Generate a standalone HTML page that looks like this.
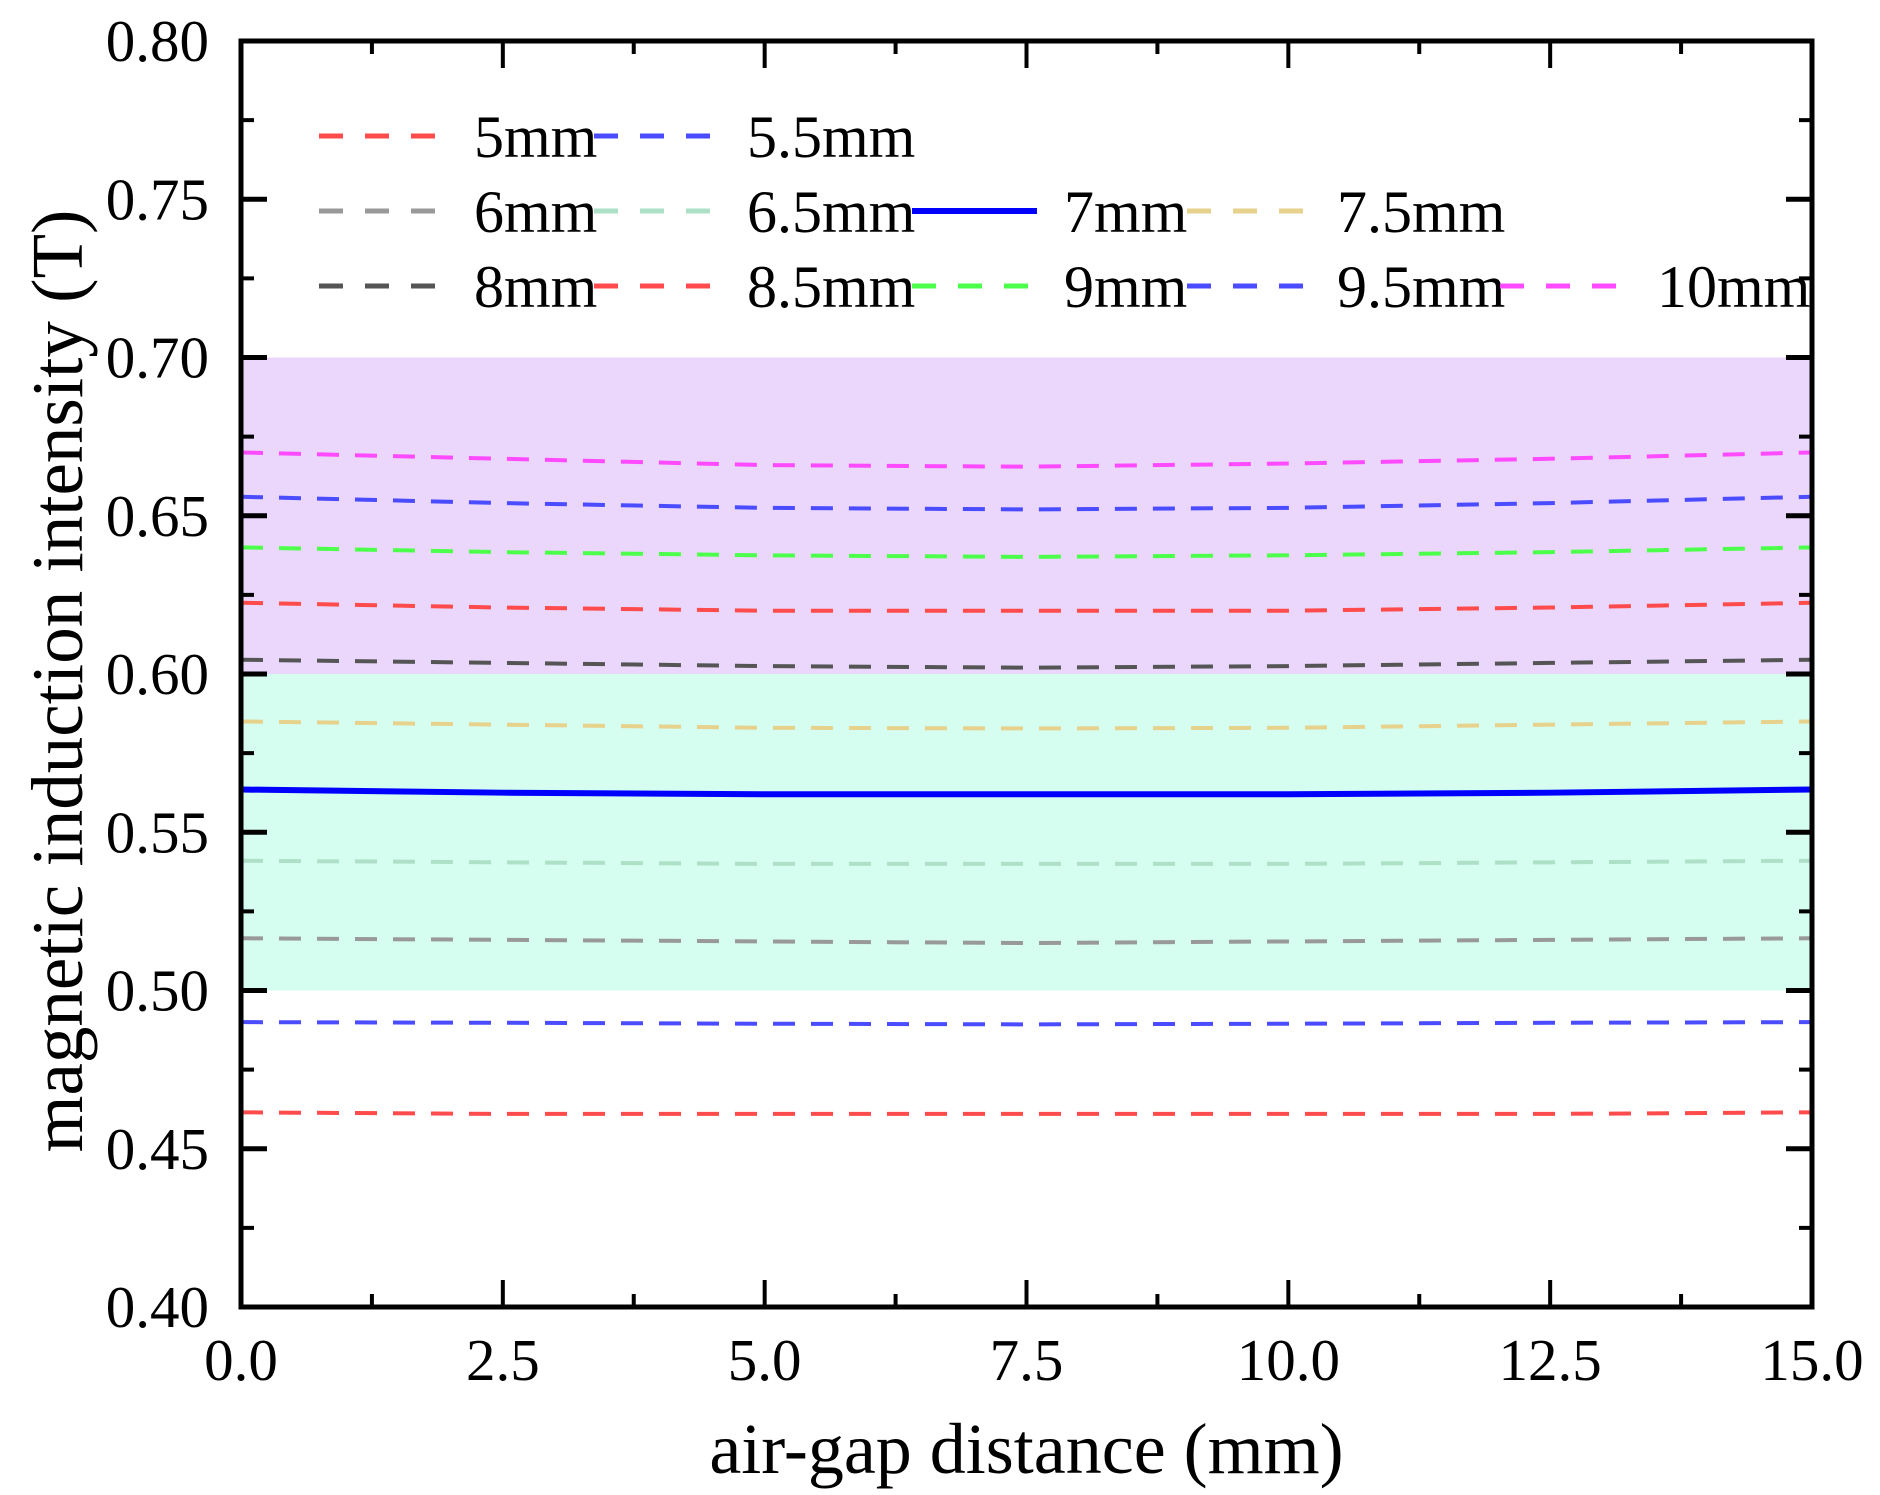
<!DOCTYPE html>
<html><head><meta charset="utf-8"><style>
html,body{margin:0;padding:0;background:#fff}
svg{display:block}
text{font-family:"Liberation Serif","Times New Roman",Times,serif;fill:#000}
</style></head><body>
<svg id="chart" width="1880" height="1495" xmlns="http://www.w3.org/2000/svg"></svg>
<script>
const xs = [0, 2.5, 5, 7.5, 10, 12.5, 15];
const seriesNames = ["5mm","5.5mm","6mm","6.5mm","7mm","7.5mm","8mm","8.5mm","9mm","9.5mm","10mm"];
const s5 = [0.4615,0.461,0.461,0.461,0.461,0.461,0.4615];
const s55 = [0.490,0.4898,0.4895,0.4893,0.4895,0.4898,0.490];
const s6 = [0.5165,0.516,0.5155,0.515,0.5155,0.516,0.5165];
const s65 = [0.541,0.5405,0.540,0.540,0.540,0.5405,0.541];
const s7 = [0.5635,0.5625,0.562,0.562,0.562,0.5625,0.5635];
const s75 = [0.585,0.584,0.583,0.5828,0.583,0.584,0.585];
const s8 = [0.6045,0.6035,0.6025,0.602,0.6025,0.6035,0.6045];
const s85 = [0.6225,0.621,0.620,0.620,0.620,0.621,0.6225];
const s9 = [0.640,0.6385,0.6375,0.637,0.6375,0.6385,0.640];
const s95 = [0.656,0.654,0.6525,0.652,0.6525,0.654,0.656];
const s10 = [0.670,0.668,0.666,0.6655,0.6665,0.668,0.670];
const yTicks = [0.40,0.45,0.50,0.55,0.60,0.65,0.70,0.75,0.80];
const xTicks = [0,2.5,5,7.5,10,12.5,15];
const bandLow = [0.5,0.6];
const bandHigh = [0.6,0.7];

const allSeries=[s5,s55,s6,s65,s7,s75,s8,s85,s9,s95,s10];
const colors=["#ff4b4b","#4b4bff","#999999","#aee0c8","#0000ff","#e6d28c","#555555","#ff4b4b","#4bff4b","#4b4bff","#ff4bff"];
const L=241,R=1812,T=41,B=1307;
const X=v=>L+(v-0)/15*(R-L);
const Y=v=>B-(v-0.4)/0.4*(B-T);
const svg=document.getElementById('chart');
const NS="http://www.w3.org/2000/svg";
function mk(tag,attrs,parent){const e=document.createElementNS(NS,tag);for(const k in attrs)e.setAttribute(k,attrs[k]);(parent||svg).appendChild(e);return e;}

let r=mk('rect',{x:L,y:Y(bandHigh[1]),width:R-L,height:Y(bandHigh[0])-Y(bandHigh[1]),fill:"#ead7fb"});


r=mk('rect',{x:L,y:Y(bandLow[1]),width:R-L,height:Y(bandLow[0])-Y(bandLow[1]),fill:"#d5fdf0"});



allSeries.forEach((s,i)=>{
  const d=s.map((v,j)=>(j?'L':'M')+X(xs[j])+','+Y(v)).join(' ');
  const solid=seriesNames[i]==="7mm";
  const p=mk('path',{d:d,fill:"none",stroke:colors[i],"stroke-width":solid?6:4,"stroke-dasharray":solid?"none":"22 16"});
  
  
});

let fr=mk('rect',{x:L,y:T,width:R-L,height:B-T,fill:"none",stroke:"#000","stroke-width":5});



yTicks.forEach((v,i)=>{
  const y=Y(v);
  mk('line',{x1:L,x2:L+26,y1:y,y2:y,stroke:"#000","stroke-width":5});
  mk('line',{x1:R,x2:R-26,y1:y,y2:y,stroke:"#000","stroke-width":5});
  if(i<yTicks.length-1){const ym=Y(v+0.025);
    mk('line',{x1:L,x2:L+13,y1:ym,y2:ym,stroke:"#000","stroke-width":4});
    mk('line',{x1:R,x2:R-13,y1:ym,y2:ym,stroke:"#000","stroke-width":4});}
  const t=mk('text',{x:L-32,y:y+20,"text-anchor":"end","font-size":59});
  t.textContent=v.toFixed(2);
  
  
});
xTicks.forEach((v,i)=>{
  const x=X(v);
  mk('line',{x1:x,x2:x,y1:B,y2:B-27,stroke:"#000","stroke-width":4});
  mk('line',{x1:x,x2:x,y1:T,y2:T+27,stroke:"#000","stroke-width":4});
  if(i<xTicks.length-1){const xm=X(v+1.25);
    mk('line',{x1:xm,x2:xm,y1:B,y2:B-13,stroke:"#000","stroke-width":4});
    mk('line',{x1:xm,x2:xm,y1:T,y2:T+13,stroke:"#000","stroke-width":4});}
  const t=mk('text',{x:x,y:B+73,"text-anchor":"middle","font-size":59});
  t.textContent=v.toFixed(1);
  
  
});

let xt=mk('text',{x:(L+R)/2,y:1473,"text-anchor":"middle","font-size":72});
xt.textContent="air-gap distance (mm)";


let yt=mk('text',{x:0,y:0,"text-anchor":"middle","font-size":73,transform:"translate(82,681) rotate(-90)"});
yt.textContent="magnetic induction intensity (T)";



const rowsY=[136,211,286];
const colLine=[319,594,912,1187,1500];
const colText=[474,747,1064,1337,1657];
const layout=[[0,0],[0,1],[1,0],[1,1],[1,2],[1,3],[2,0],[2,1],[2,2],[2,3],[2,4]];
layout.forEach(([row,col],i)=>{
  const g=mk('g',{});
  
  
  const y=rowsY[row];
  const solid=seriesNames[i]==="7mm";
  mk('line',{x1:colLine[col],x2:colLine[col]+125,y1:y,y2:y,stroke:colors[i],"stroke-width":solid?6:5,"stroke-dasharray":solid?"none":"24 22"},g);
  const t=mk('text',{x:colText[col],y:y+21,"font-size":60},g);
  t.textContent=seriesNames[i];
});
</script>
</body></html>
